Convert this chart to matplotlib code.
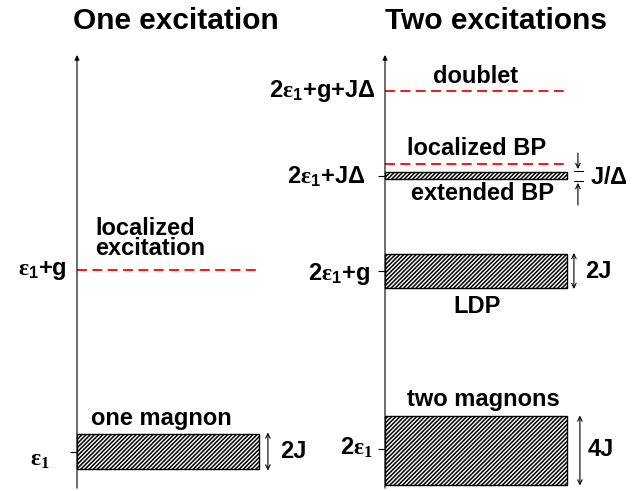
import matplotlib
matplotlib.use("Agg")
import matplotlib.pyplot as plt

plt.rcParams['font.family'] = ['Liberation Sans', 'DejaVu Sans']
plt.rcParams['font.weight'] = 'bold'
plt.rcParams['mathtext.fontset'] = 'custom'
plt.rcParams['mathtext.rm'] = 'Liberation Sans:bold'
plt.rcParams['mathtext.bf'] = 'Liberation Sans:bold'
plt.rcParams['mathtext.it'] = 'Liberation Serif'
plt.rcParams['mathtext.cal'] = 'Liberation Serif'
plt.rcParams['mathtext.default'] = 'rm'
plt.rcParams['hatch.linewidth'] = 1.1

# ---------------- data (schematic energies, arbitrary units) ----------------
titles = ["One excitation", "Two excitations"]

one_names = ["one magnon", "localized\nexcitation"]
one_centers = [34.5, 216.0]
one_halfwidths = [17.25, 0.0]          # 0 -> discrete level (dashed)
one_ticks = [34.5]
one_tick_labels = [r"$\mathcal{\varepsilon}_{\mathcal{1}}$", r"$\mathcal{\varepsilon}_{1}{+}g$"]

two_names = ["two magnons", "LDP", "extended BP", "localized BP", "doublet"]
two_centers = [36.0, 215.0, 310.5, 322.0, 395.0]
two_halfwidths = [34.5, 17.25, 3.5, 0.0, 0.0]
two_ticks = [37.0, 215.0, 310.0]
two_tick_labels = [r"$2\mathcal{\varepsilon}_{\mathcal{1}}$", r"$2\mathcal{\varepsilon}_{1}{+}g$",
                   r"$2\mathcal{\varepsilon}_{1}{+}J\Delta$", r"$2\mathcal{\varepsilon}_{1}{+}g{+}J\Delta$"]
width_labels = ["2J", "2J", "4J", r"J/$\Delta$"]

# ---------------- layout ----------------
W, H = 641, 491
fig = plt.figure(figsize=(W / 100, H / 100), dpi=100)

def axes_px(x0, x1, ytop, ybot):
    return fig.add_axes([x0 / W, (H - ybot) / H, (x1 - x0) / W, (ybot - ytop) / H])

ax1 = axes_px(77, 259, 55, 486)
ax2 = axes_px(385, 567, 55, 486)

FS = 17
for ax in (ax1, ax2):
    ax.set_xlim(0, 1)
    ax.set_ylim(0, 431)
    for s in ax.spines.values():
        s.set_visible(False)
    ax.set_xticks([])
    ax.tick_params(axis='y', direction='out', length=5, width=0.8, labelleft=False)
    ax.annotate('', xy=(0, 1.0), xytext=(0, -0.005), xycoords='axes fraction',
                arrowprops=dict(arrowstyle='-|>', lw=0.8, color='black',
                                mutation_scale=7, shrinkA=0, shrinkB=0),
                annotation_clip=False)

def draw_levels(ax, centers, halfwidths):
    for c, hw in zip(centers, halfwidths):
        if hw > 0:
            ax.bar(0, 2 * hw, bottom=c - hw, width=1.0, align='edge',
                   facecolor='white', edgecolor='black', hatch='////////', lw=1.0,
                   clip_on=False)
        else:
            ax.plot([0, 1], [c, c], color='red', lw=1.3, ls=(0, (5.5, 3)),
                    clip_on=False)

draw_levels(ax1, one_centers, one_halfwidths)
draw_levels(ax2, two_centers, two_halfwidths)

ax1.set_yticks(one_ticks)
ax2.set_yticks(two_ticks)

# titles
fig.text(175.5 / W, 1 - 29 / H, titles[0], fontsize=21.5, fontweight='bold',
         ha='center', va='baseline')
fig.text(496 / W, 1 - 29 / H, titles[1], fontsize=21.5, fontweight='bold',
         ha='center', va='baseline')

# left panel labels
ax1.text(0.462, 61, one_names[0], fontsize=FS, fontweight='bold', ha='center', va='baseline')
ax1.text(0.10, 231, one_names[1], fontsize=FS, fontweight='bold', ha='left', va='baseline',
         linespacing=0.85)
ax1.text(-0.148, 21, one_tick_labels[0], fontsize=FS, ha='right', va='baseline')
ax1.text(-0.055, 211, one_tick_labels[1], fontsize=FS, ha='right', va='baseline')
ax1.annotate('', xy=(1.049, one_centers[0] + 19), xytext=(1.049, one_centers[0] - 19),
             arrowprops=dict(arrowstyle='<->', lw=0.8, mutation_scale=8,
                             shrinkA=0, shrinkB=0), annotation_clip=False)
ax1.text(1.115, one_centers[0], width_labels[0], fontsize=FS, fontweight='bold',
         ha='left', va='center')

# right panel labels
ax2.text(0.538, 80, two_names[0], fontsize=FS, fontweight='bold', ha='center', va='baseline')
ax2.text(0.505, 173, two_names[1], fontsize=FS, fontweight='bold', ha='center', va='baseline')
ax2.text(0.533, 286, two_names[2], fontsize=FS, fontweight='bold', ha='center', va='baseline')
ax2.text(0.505, 331, two_names[3], fontsize=FS, fontweight='bold', ha='center', va='baseline')
ax2.text(0.50, 403, two_names[4], fontsize=FS, fontweight='bold', ha='center', va='baseline')

ax2.text(-0.066, 32, two_tick_labels[0], fontsize=FS, ha='right', va='baseline')
ax2.text(-0.082, 206, two_tick_labels[1], fontsize=FS, ha='right', va='baseline')
ax2.text(-0.11, 303, two_tick_labels[2], fontsize=FS, ha='right', va='baseline')
ax2.text(-0.055, 389, two_tick_labels[3], fontsize=FS, ha='right', va='baseline')

arrow_kw = dict(arrowstyle='<->', lw=0.8, mutation_scale=8, shrinkA=0, shrinkB=0)
# 4J
ax2.annotate('', xy=(1.071, two_centers[0] + two_halfwidths[0]),
             xytext=(1.071, two_centers[0] - two_halfwidths[0] - 1),
             arrowprops=arrow_kw, annotation_clip=False)
ax2.text(1.115, two_centers[0], width_labels[2], fontsize=FS, fontweight='bold',
         ha='left', va='center')
# 2J (LDP)
ax2.annotate('', xy=(1.038, two_centers[1] + 18), xytext=(1.038, two_centers[1] - 18),
             arrowprops=arrow_kw, annotation_clip=False)
ax2.text(1.099, two_centers[1], width_labels[1], fontsize=FS, fontweight='bold',
         ha='left', va='center')
# J/Delta gap markers
one_kw = dict(arrowstyle='->', lw=0.8, mutation_scale=8, shrinkA=0, shrinkB=0)
ax2.annotate('', xy=(1.06, 317), xytext=(1.06, 333), arrowprops=one_kw, annotation_clip=False)
ax2.annotate('', xy=(1.06, 303), xytext=(1.06, 281), arrowprops=one_kw, annotation_clip=False)
ax2.plot([1.038, 1.088], [315.5, 315.5], color='black', lw=0.8, clip_on=False)
ax2.plot([1.038, 1.088], [305, 305], color='black', lw=0.8, clip_on=False)
ax2.text(1.126, 308, width_labels[3], fontsize=FS, fontweight='bold', ha='left', va='center')

fig.savefig("out.png", dpi=100)
